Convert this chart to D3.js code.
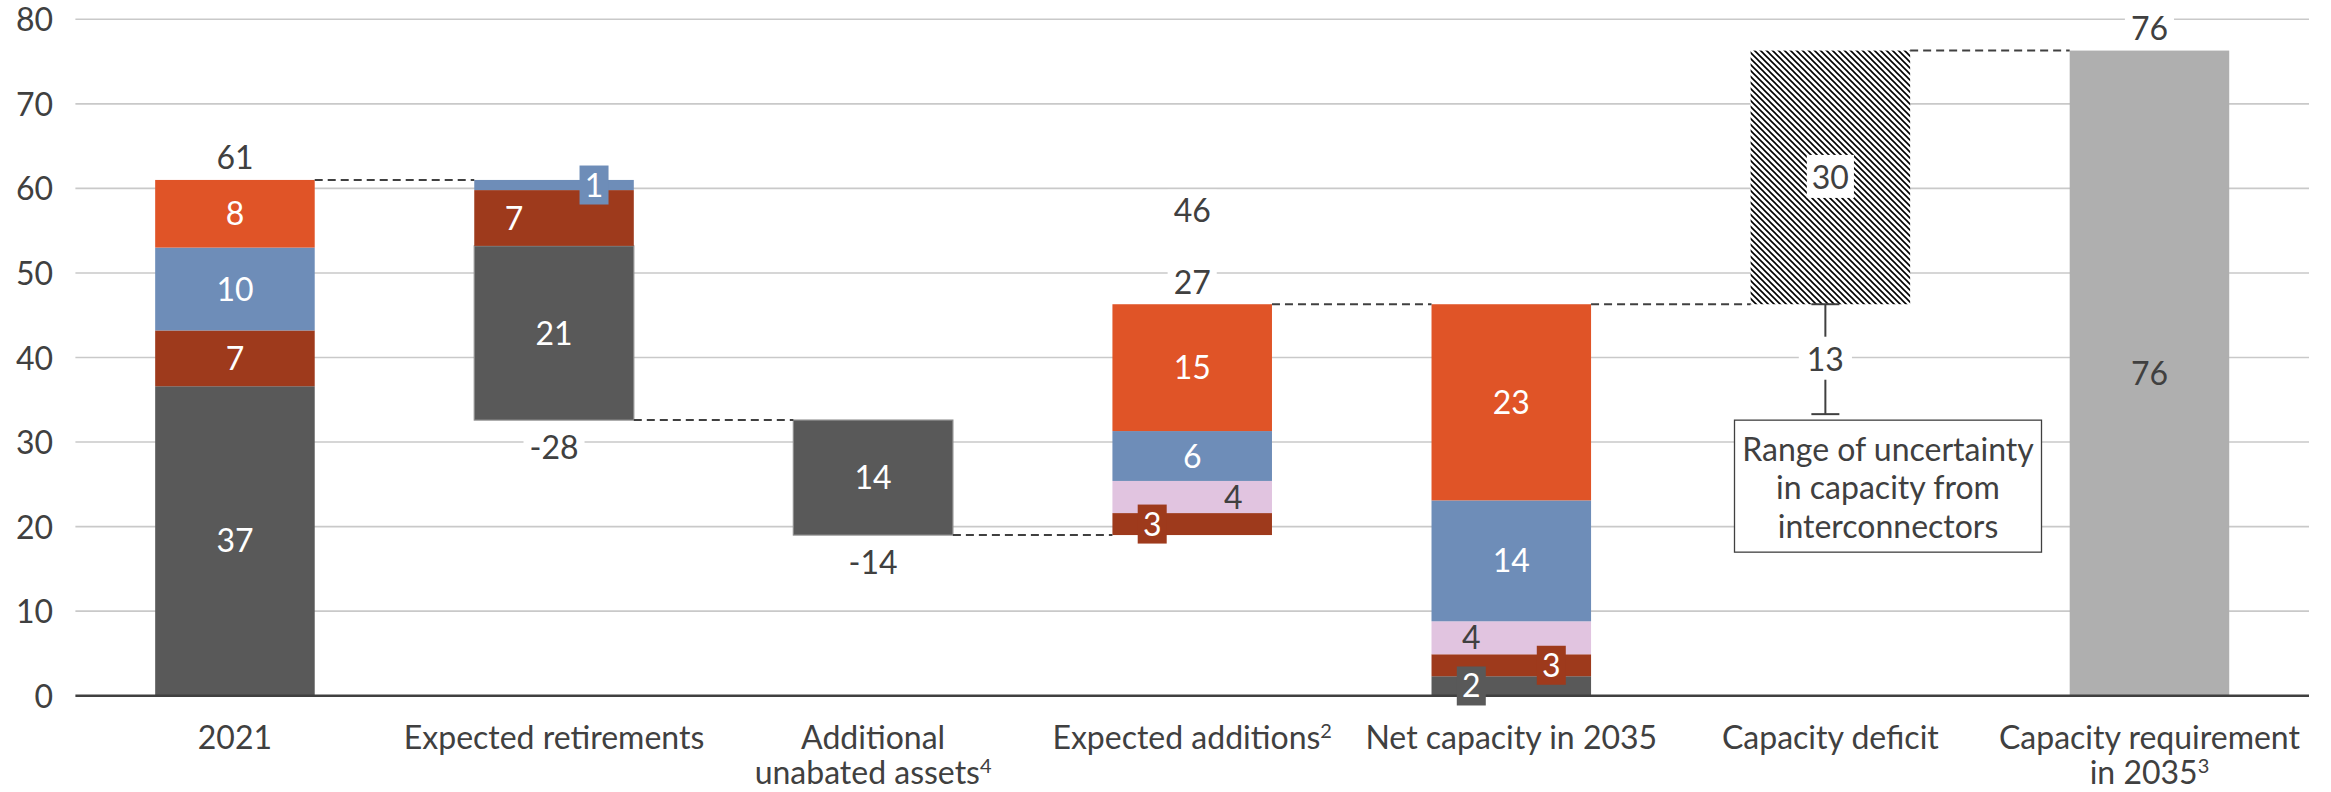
<!DOCTYPE html>
<html>
<head>
<meta charset="utf-8">
<script src="https://cdn.jsdelivr.net/npm/d3@7"></script>
<style>
  body { margin: 0; background: #fff; }
  svg { display: block; }
  text { font-family: Lato, "Open Sans", sans-serif; }
</style>
</head>
<body>
<svg id="chart" width="2331" height="792"></svg>
<script>
// ---- Data -------------------------------------------------------------
const categories = [
  "2021",
  "Expected retirements",
  "Additional unabated assets",
  "Expected additions",
  "Net capacity in 2035",
  "Capacity deficit",
  "Capacity requirement in 2035"
];
// Category labels as drawn (line breaks) and their footnote marks
const categoryLines = [
  ["2021"],
  ["Expected retirements"],
  ["Additional", "unabated assets"],
  ["Expected additions"],
  ["Net capacity in 2035"],
  ["Capacity deficit"],
  ["Capacity requirement", "in 2035"]
];
const footnoteMarks = ["", "", "4", "2", "", "", "3"];

// Stacked components (GW) for the first five columns, bottom to top
const seriesNames = ["Series 1", "Series 2", "Series 3", "Series 4", "Series 5"];
const series1 = [36.6, 20.6, 13.6, 0.0, 2.3];
const series2 = [6.6, 6.6, 0.0, 2.6, 2.6];
const series3 = [0.0, 0.0, 0.0, 3.8, 3.9];
const series4 = [9.8, 1.2, 0.0, 5.9, 14.3];
const series5 = [8.0, 0.0, 0.0, 15.0, 23.2];
// How each column moves the running total
const columnKinds = ["total", "decrease", "decrease", "increase", "total"];

const deficitValue = 30.0;
const requirementValue = 76.3;
const interconnectorRange = 13;
const noteLines = ["Range of uncertainty", "in capacity from", "interconnectors"];

const yTicks = [0, 10, 20, 30, 40, 50, 60, 70, 80];

// ---- Styles -----------------------------------------------------------
const seriesColors = ["#595959", "#9E3A1C", "#E1C4E0", "#6E8DB8", "#E05427"];
const darkLabelSeries = new Set([2]);
const textColor = "#404040";
const requirementColor = "#AFAFAF";
const FS = 32;

// ---- Layout -----------------------------------------------------------
const svg = d3.select("#chart");
const plotLeft = 75.4, plotRight = 2309, plotTop = 19.3, zeroY = 695.7;

const x = d3.scaleBand().domain(categories).range([plotLeft, plotRight])
  .paddingInner(0.5).paddingOuter(0.25);
const y = d3.scaleLinear().domain([0, 80]).range([zeroY, plotTop]);
const fmt = d3.formatLocale({ decimal: ".", thousands: ",", grouping: [3], currency: ["", ""], minus: "-" }).format(".0f");

const defs = svg.append("defs");
const pat = defs.append("pattern").attr("id", "hatch")
  .attr("patternUnits", "userSpaceOnUse").attr("width", 6).attr("height", 6);
pat.append("rect").attr("width", 6).attr("height", 6).attr("fill", "#fff");
pat.append("path").attr("d", "M0,0L6,6M-3,3L3,9M3,-3L9,3")
  .attr("stroke", "#000").attr("stroke-width", 1.6);

// Gridlines
svg.append("g").selectAll("line").data(yTicks.filter(d => d > 0)).join("line")
  .attr("x1", plotLeft).attr("x2", plotRight)
  .attr("y1", d => y(d)).attr("y2", d => y(d))
  .attr("stroke", "#C9C9C9").attr("stroke-width", 1.6);

// Y axis labels
const yAxis = d3.axisLeft(y).tickValues(yTicks).tickSize(0).tickPadding(0);
const yg = svg.append("g").attr("transform", `translate(${53},0)`).call(yAxis);
yg.select(".domain").remove();
yg.selectAll("text").attr("font-size", FS).attr("fill", textColor)
  .attr("font-family", "Lato").attr("dy", "0.36em");

// ---- Waterfall geometry ----------------------------------------------
const allSeries = [series1, series2, series3, series4, series5];
const columns = [];
let running = 0;
columnKinds.forEach((kind, i) => {
  const sum = d3.sum(allSeries, s => s[i]);
  let base;
  if (kind === "total") { base = 0; running = sum; }
  else if (kind === "decrease") { base = running - sum; running = base; }
  else { base = running; running += sum; }
  let acc = base;
  const segs = allSeries.map((s, k) => {
    const seg = { col: i, k, v: s[i], y0: acc, y1: acc + s[i] };
    acc += s[i];
    return seg;
  }).filter(d => d.v > 0);
  columns.push({ i, kind, sum, base, top: base + sum, segs, cum: running });
});
const netTotal = columns[4].top;
const deficitBase = netTotal, deficitTop = netTotal + deficitValue;

const bw = x.bandwidth();
const cx = i => x(categories[i]) + bw / 2;

// Stacked segments
const segG = svg.append("g");
columns.forEach(c => {
  segG.selectAll(null).data(c.segs).join("rect")
    .attr("x", x(categories[c.i]))
    .attr("width", bw)
    .attr("y", d => y(d.y1))
    .attr("height", d => y(d.y0) - y(d.y1))
    .attr("fill", d => seriesColors[d.k])
    .attr("stroke", d => (d.k === 0 && c.kind === "decrease") ? "#8C8C8C" : "none")
    .attr("stroke-width", 1.2);
});

// Capacity deficit (hatched) and requirement columns
svg.append("rect").attr("x", x(categories[5])).attr("width", bw)
  .attr("y", y(deficitTop)).attr("height", y(deficitBase) - y(deficitTop))
  .attr("fill", "url(#hatch)");
svg.append("rect").attr("x", x(categories[6])).attr("width", bw)
  .attr("y", y(requirementValue)).attr("height", y(0) - y(requirementValue))
  .attr("fill", requirementColor);

// Dashed connectors between consecutive columns
const levels = [columns[0].top, columns[1].base, columns[2].base, columns[3].top, netTotal, deficitTop];
svg.append("g").selectAll("line").data(levels).join("line")
  .attr("x1", (d, i) => x(categories[i]) + bw)
  .attr("x2", (d, i) => x(categories[i + 1]))
  .attr("y1", d => y(d)).attr("y2", d => y(d))
  .attr("stroke", "#404040").attr("stroke-width", 2)
  .attr("stroke-dasharray", "8,5");

// Zero line
svg.append("line").attr("x1", plotLeft).attr("x2", plotRight)
  .attr("y1", zeroY).attr("y2", zeroY)
  .attr("stroke", "#404040").attr("stroke-width", 2.6);

// Error bar for interconnector uncertainty
const ex = cx(5) - 5;
const eTop = y(deficitBase), eBot = y(deficitBase - interconnectorRange);
const eg = svg.append("g").attr("stroke", "#404040").attr("stroke-width", 2);
eg.append("line").attr("x1", ex).attr("x2", ex).attr("y1", eTop).attr("y2", eBot);
eg.append("line").attr("x1", ex - 14).attr("x2", ex + 14).attr("y1", eTop).attr("y2", eTop);
eg.append("line").attr("x1", ex - 14).attr("x2", ex + 14).attr("y1", eBot).attr("y2", eBot);

// ---- Labels -----------------------------------------------------------
const labelG = svg.append("g");
function label(xp, yp, txt, opts = {}) {
  const g = labelG.append("g");
  const bg = g.append("rect");
  const t = g.append("text").attr("x", xp).attr("y", yp)
    .attr("text-anchor", "middle").attr("dy", "0.36em")
    .attr("font-size", FS).attr("fill", opts.color || textColor).text(txt);
  if (opts.bg) {
    const b = t.node().getBBox();
    const pw = opts.padX != null ? opts.padX : 6;
    const ph = opts.padY != null ? opts.padY : 0;
    bg.attr("x", b.x - pw).attr("y", b.y - ph)
      .attr("width", b.width + 2 * pw).attr("height", b.height + 2 * ph)
      .attr("fill", opts.bg);
  } else bg.remove();
  return t;
}

// Segment values: a few small segments are shifted sideways, some on a tile
const shift = { "1-3": 40, "1-1": -40, "3-1": -40, "3-2": 41, "4-2": -40, "4-1": 40, "4-0": -40 };
const tiled = new Set(["1-3", "3-1", "4-1", "4-0"]);
columns.forEach(c => {
  c.segs.forEach(d => {
    const key = `${c.i}-${d.k}`;
    const xp = cx(c.i) + (shift[key] || 0);
    const yp = y((d.y0 + d.y1) / 2);
    const color = darkLabelSeries.has(d.k) ? textColor : "#fff";
    if (tiled.has(key)) {
      labelG.append("rect").attr("x", xp - 14.5).attr("y", yp - 19.5)
        .attr("width", 29).attr("height", 39).attr("fill", seriesColors[d.k]);
    }
    label(xp, yp, fmt(d.v), { color });
  });
});

// Column totals and changes
label(cx(0), y(columns[0].top) - 22, fmt(columns[0].sum));
label(cx(1), y(columns[1].base) + 27, fmt(-columns[1].sum), { bg: "#fff" });
label(cx(2), y(columns[2].base) + 27, fmt(-columns[2].sum), { bg: "#fff" });
label(cx(3), y(columns[3].top) - 22, fmt(columns[3].sum), { bg: "#fff" });
label(cx(3), y(columns[3].top) - 94, fmt(columns[3].cum), { bg: "#fff" });
label(cx(5), y((deficitBase + deficitTop) / 2), fmt(deficitValue), { bg: "#fff", padX: 5, padY: 2 });
label(cx(6), y(requirementValue) - 22, fmt(requirementValue), { bg: "#fff" });
label(cx(6), y(requirementValue / 2), fmt(requirementValue));
label(ex, (eTop + eBot) / 2, fmt(interconnectorRange), { bg: "#fff", padX: 8, padY: 2 });

// Note box under the error bar
const noteTop = eBot + 6, noteLeft = 1734.5, noteW = 307, lineH = 38.5;
svg.append("rect").attr("x", noteLeft).attr("y", noteTop)
  .attr("width", noteW).attr("height", 132)
  .attr("fill", "#fff").attr("stroke", "#404040").attr("stroke-width", 1.3);
svg.append("g").selectAll("text").data(noteLines).join("text")
  .attr("x", noteLeft + noteW / 2)
  .attr("y", (d, i) => noteTop + 29 + i * lineH)
  .attr("dy", "0.36em").attr("text-anchor", "middle")
  .attr("font-size", FS).attr("fill", textColor).text(d => d);

// Category labels with superscript footnotes
const catG = svg.append("g");
categoryLines.forEach((lines, i) => {
  lines.forEach((ln, j) => {
    const t = catG.append("text").attr("x", cx(i)).attr("y", 737 + j * 35)
      .attr("dy", "0.36em").attr("text-anchor", "middle")
      .attr("font-size", FS).attr("fill", textColor);
    t.append("tspan").text(ln);
    if (j === lines.length - 1 && footnoteMarks[i]) {
      t.append("tspan").attr("font-size", 20).attr("dy", "-0.55em")
        .text(footnoteMarks[i]);
    }
  });
});
</script>
</body>
</html>
